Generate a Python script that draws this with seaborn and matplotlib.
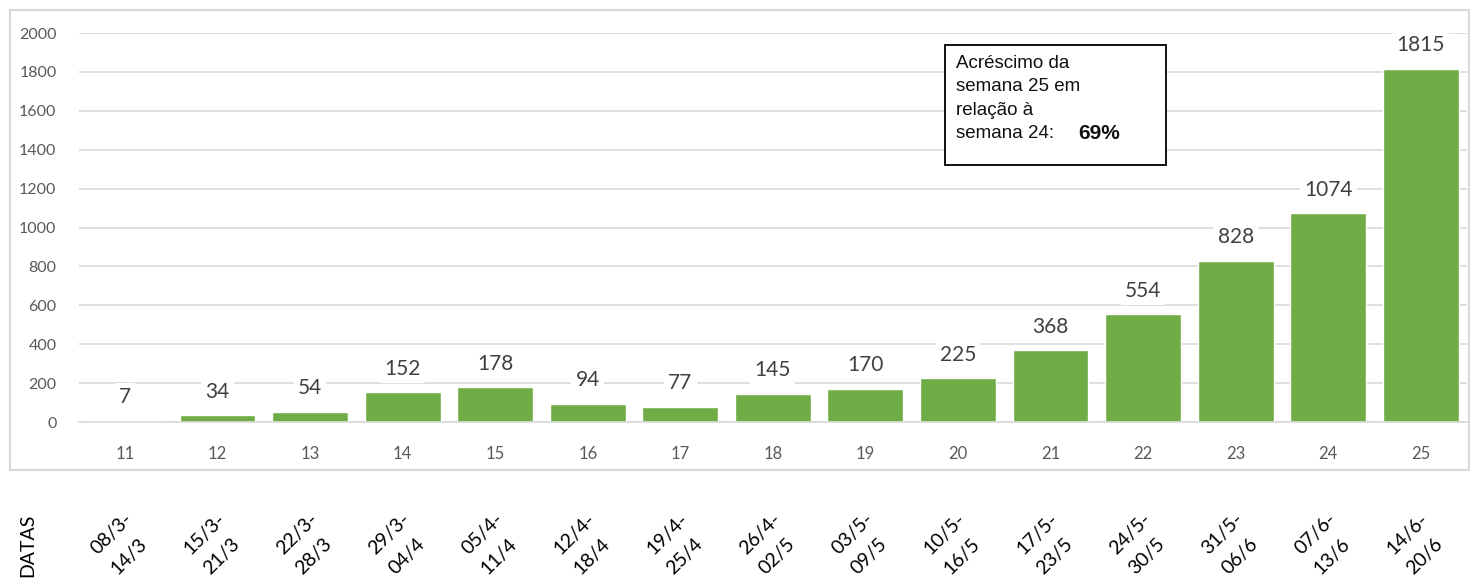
import numpy as np
import matplotlib
matplotlib.use('Agg')
import matplotlib.pyplot as plt
import matplotlib.patches as mpatches
import matplotlib.transforms as mtransforms
import seaborn as sns

semanas = ['11', '12', '13', '14', '15', '16', '17', '18', '19', '20', '21', '22', '23', '24', '25']
casos = [7, 34, 54, 152, 178, 94, 77, 145, 170, 225, 368, 554, 828, 1074, 1815]
datas_ini = ['08/3-', '15/3-', '22/3-', '29/3-', '05/4-', '12/4-', '19/4-', '26/4-',
             '03/5-', '10/5-', '17/5-', '24/5-', '31/5-', '07/6-', '14/6-']
datas_fim = ['14/3', '21/3', '28/3', '04/4', '11/4', '18/4', '25/4', '02/5',
             '09/5', '16/5', '23/5', '30/5', '06/6', '13/6', '20/6']
y_ticks = [0, 200, 400, 600, 800, 1000, 1200, 1400, 1600, 1800, 2000]
caixa_linhas = ['Acréscimo da', 'semana 25 em', 'relação à', 'semana 24:']

sns.set_style('white')
plt.rcParams['font.family'] = ['Lato', 'DejaVu Sans']

verde = '#70AD47'
cinza = '#595959'
grade = '#d9d9d9'
arial = ['Liberation Sans', 'DejaVu Sans']

fig = plt.figure(figsize=(14.79, 5.8), dpi=100)
ax = fig.add_axes([0.0532, 0.2724, 0.9387, 0.6707])

sns.barplot(x=semanas, y=casos, color=verde, width=0.82, ax=ax, zorder=2, saturation=1)

ax.set_ylim(0, 2000)
ax.set_xlim(-0.5, len(semanas) - 0.5)
ax.set_yticks(y_ticks)
ax.set_yticklabels([str(v) for v in y_ticks], fontsize=11.5, color=cinza)
ax.yaxis.grid(True, color=grade, lw=1.2, zorder=0)
ax.set_axisbelow(True)
ax.set_xlabel('')
ax.set_ylabel('')
for s in ['top', 'right', 'left']:
    ax.spines[s].set_visible(False)
ax.spines['bottom'].set_color(grade)
ax.spines['bottom'].set_linewidth(1.2)
ax.tick_params(axis='y', length=0, pad=16)
ax.tick_params(axis='x', which='major', length=0, pad=17, labelsize=12, labelcolor=cinza)
ax.set_xticks(np.arange(-0.5, len(semanas), 1), minor=True)
ax.tick_params(axis='x', which='minor', length=6, color=grade, width=1.2)

# rótulos de valor acima das barras
for i, v in enumerate(casos):
    ax.annotate(str(v), (i, v), xytext=(0, 17), textcoords='offset points',
                ha='center', va='center', fontsize=15, color='#404040', zorder=3,
                bbox=dict(facecolor='white', edgecolor='none', pad=3))

# caixa de texto
ax.add_patch(mpatches.Rectangle((8.86, 1321), 2.39, 617, facecolor='white', edgecolor='black',
                                lw=1.3, zorder=4))
for k, linha in enumerate(caixa_linhas):
    ax.text(8.98, 1843 - k * 120, linha, fontsize=13.5, family=arial,
            va='center', ha='left', color='#111111', zorder=5)
ax.text(10.3, 1483, '69%', fontsize=15, fontweight='bold', family=arial,
        va='center', ha='left', color='#111111', zorder=5)

# moldura externa
fig.add_artist(mpatches.Rectangle((10 / 1479, 1 - 470 / 580), 1459 / 1479, 460 / 580,
                                  transform=fig.transFigure, fill=False, edgecolor=grade, lw=1.5))

# datas abaixo do gráfico (duas linhas inclinadas)
trans = mtransforms.blended_transform_factory(ax.transData, fig.transFigure)
for i in range(len(datas_ini)):
    ax.annotate(datas_ini[i], (i, 1 - 534 / 580), xycoords=trans, xytext=(-13, 0),
                textcoords='offset pixels', rotation=45, ha='center', va='center',
                fontsize=14, color='black', annotation_clip=False)
    ax.annotate(datas_fim[i], (i, 1 - 556 / 580), xycoords=trans, xytext=(4, 0),
                textcoords='offset pixels', rotation=45, ha='center', va='center',
                fontsize=14, color='black', annotation_clip=False)

fig.text(28 / 1479, 1 - 545 / 580, 'DATAS', rotation=90, ha='center', va='center',
         fontsize=14, color='black')

plt.savefig('out.png', dpi=100)
plt.close()
